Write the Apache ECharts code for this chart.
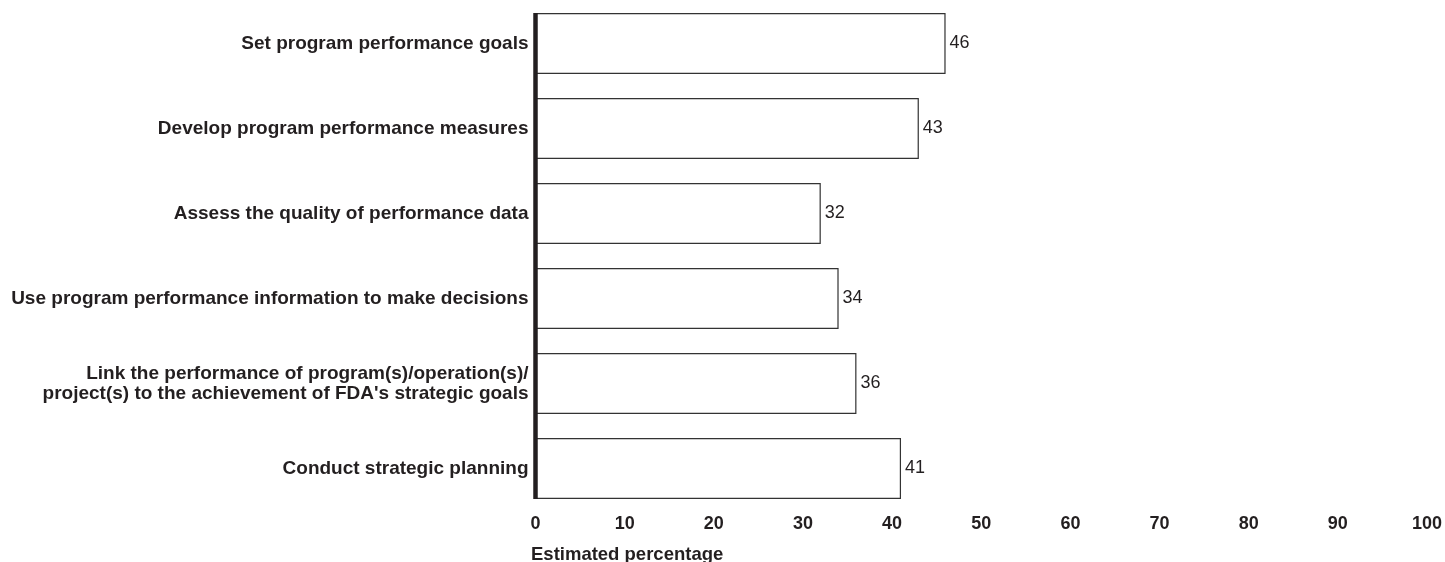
<!DOCTYPE html>
<html><head><meta charset="utf-8">
<script src="https://cdn.jsdelivr.net/npm/echarts@6/dist/echarts.min.js"></script>
<style>html,body{margin:0;padding:0;background:#fff}#c{width:1445px;height:562px}</style>
</head><body><div id="c"></div>
<script>
const categories = [
  "Set program performance goals",
  "Develop program performance measures",
  "Assess the quality of performance data",
  "Use program performance information to make decisions",
  "Link the performance of program(s)/operation(s)/\nproject(s) to the achievement of FDA's strategic goals",
  "Conduct strategic planning"
];
const values = [46, 43, 32, 34, 36, 41];
const xTicks = [0, 10, 20, 30, 40, 50, 60, 70, 80, 90, 100];
const axisTitle = "Estimated percentage";

const FONT = "Liberation Sans, Arial, Helvetica, sans-serif";
const chart = echarts.init(document.getElementById('c'), null, {renderer: 'canvas'});
chart.setOption({
  animation: false,
  backgroundColor: '#fff',
  title: {
    text: axisTitle, left: 531, top: 545, padding: 0,
    textStyle: {fontFamily: FONT, fontSize: 18.5, fontWeight: 'bold', color: '#231f20'}
  },
  grid: {left: 535.5, right: 17, top: 1, bottom: 51, containLabel: false},
  xAxis: {
    type: 'value', min: xTicks[0], max: xTicks[xTicks.length - 1], interval: 10,
    axisLine: {show: false}, axisTick: {show: false}, splitLine: {show: false},
    axisLabel: {margin: 4, fontFamily: FONT, fontSize: 18, fontWeight: 'bold', color: '#231f20',
      formatter: v => xTicks.includes(v) ? String(v) : ''}
  },
  yAxis: {
    type: 'category', data: categories, inverse: true,
    axisLine: {show: false}, axisTick: {show: false}, splitLine: {show: false},
    axisLabel: {margin: 7, fontFamily: FONT, fontSize: 19, fontWeight: 'bold', color: '#231f20',
      align: 'right', lineHeight: 20}
  },
  series: [
    {
      type: 'bar', data: values, barWidth: '71.8%',
      itemStyle: {color: '#fff', borderColor: '#333', borderWidth: 1.2},
      label: {show: true, position: 'right', distance: 4, fontFamily: FONT, fontSize: 18,
        color: '#231f20'}
    },
    {
      type: 'custom', silent: true, z: 5,
      data: [[0, 0]],
      renderItem: function (params, api) {
        const top = api.coord([0, 0]);
        const bot = api.coord([0, categories.length - 1]);
        const band = api.size([0, 1])[1];
        const half = band * 0.718 / 2;
        return {
          type: 'line',
          shape: {x1: top[0], y1: top[1] - half, x2: bot[0], y2: bot[1] + half},
          style: {stroke: '#231f20', lineWidth: 4.5}
        };
      }
    }
  ]
});
</script></body></html>
